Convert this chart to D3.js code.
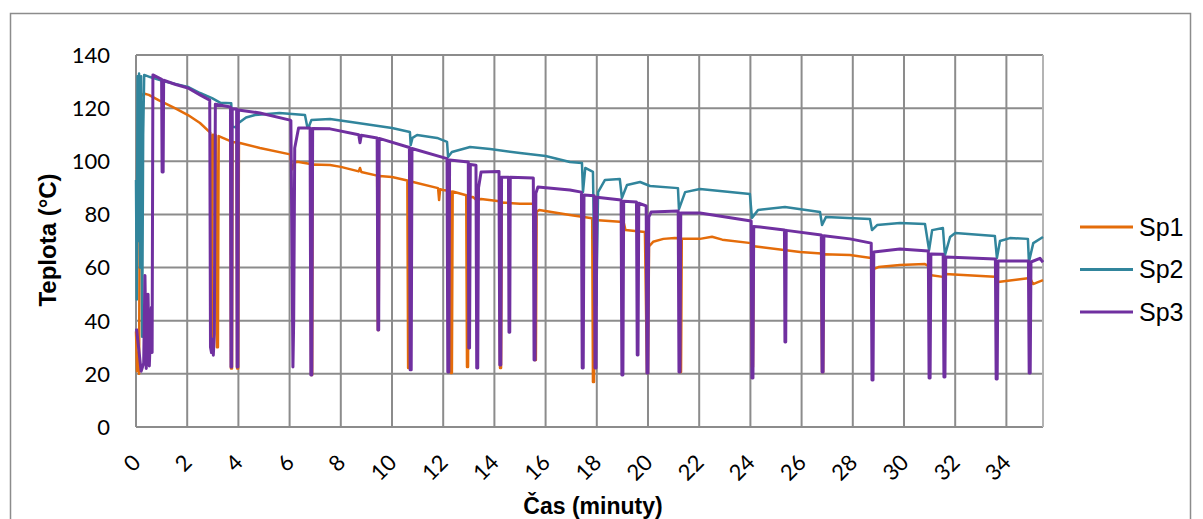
<!DOCTYPE html>
<html>
<head>
<meta charset="utf-8">
<script src="https://cdn.jsdelivr.net/npm/d3@7"></script>
<style>
    body { margin: 0; background: #fff; }
    .tick-label { font-family: Lato, 'Open Sans', sans-serif; font-size: 22px; fill: #000; }
    .axisLabel { font-family: 'Liberation Sans', Arial, sans-serif; font-size: 23px; font-weight: bold; fill: #000; }
    .legendText { font-family: 'Liberation Sans', Arial, sans-serif; font-size: 25px; fill: #000; }
    .grid line { stroke: #8c8c8c; stroke-width: 2; }
    .linePath { fill: none; stroke-linejoin: round; stroke-linecap: butt; }
</style>
</head>
<body>
<div id="chart"></div>
<script>
// Series values: [time in minutes, temperature in °C]
const sp1 = [
    [0, 36], [0.04, 21], [0.08, 28], [0.12, 20], [0.16, 124], [0.3, 125.5], [0.5, 125],
    [0.88, 123], [1.52, 120], [2.03, 117.4], [2.5, 114.4], [2.9, 110.8],
    [2.93, 31.6], [2.97, 31.6], [3.0, 110], [3.12, 109.8], [3.16, 30], [3.2, 30], [3.23, 109.5],
    [3.69, 107.6], [3.71, 22], [3.75, 22], [3.77, 107.3], [3.93, 107.1], [3.95, 22], [3.99, 22],
    [4.02, 107], [4.84, 105], [6.02, 102.6], [6.1, 97], [6.2, 99.5], [6.3, 99.8],
    [6.82, 99], [6.84, 19.6], [6.88, 19.6], [6.9, 98.8], [7.58, 98.6], [8.0, 97.9],
    [8.7, 96.2], [8.75, 97.5], [8.8, 96], [9.42, 94.6], [9.45, 36.5], [9.48, 36.5], [9.5, 94.5],
    [10.0, 94.1], [10.6, 92.8], [10.63, 22.2], [10.67, 22.2], [10.7, 92.5],
    [11.8, 89.9], [11.84, 85.4], [11.88, 89.5], [11.99, 89.2],
    [12.28, 88.8], [12.3, 20.3], [12.34, 20.3], [12.37, 88.6], [12.9, 87.2], [12.93, 22.6],
    [12.97, 22.6], [13.0, 86.5], [13.16, 86.6], [13.3, 85.4], [13.48, 85.8],
    [14.2, 85], [14.22, 22.2], [14.26, 22.2], [14.29, 84.5], [15.0, 84], [15.55, 84],
    [15.58, 25.2], [15.62, 25.2], [15.65, 81], [15.75, 81.7], [16.95, 79.8], [17.82, 78.6],
    [17.85, 16.9], [17.89, 16.9], [17.92, 77.9], [18.9, 77.2], [19.05, 77], [19.12, 74.1],
    [19.88, 73.4], [19.96, 20.3], [20.0, 20.3], [20.04, 68], [20.2, 69.7], [20.6, 70.8],
    [21.05, 71.1], [21.2, 71], [21.25, 20.7], [21.29, 20.7], [21.32, 70.8], [22.03, 70.8],
    [22.5, 71.6], [22.9, 70.5], [24.03, 69.2], [24.06, 22.6], [24.1, 22.6], [24.13, 68],
    [24.38, 67.7], [25.94, 65.9], [26.77, 65.3], [26.8, 20.7], [26.84, 20.7], [26.87, 65],
    [27.89, 64.7], [28.72, 63.6], [28.83, 59.5], [29.0, 60.2], [29.84, 61], [30.82, 61.3],
    [30.95, 60.6], [31.0, 57.2], [31.52, 56.5], [31.6, 57.6], [33.55, 56.5], [33.67, 54.6],
    [34.92, 56.1], [35.04, 53.8], [35.43, 55.3]
];

const sp2 = [
    [0, 93], [0.03, 48], [0.06, 132], [0.09, 70], [0.12, 133], [0.16, 60], [0.2, 132],
    [0.24, 34], [0.28, 110], [0.32, 132.5], [0.55, 131.7], [1.13, 130], [2.03, 128],
    [2.5, 125.7], [2.97, 123.8], [3.3, 122], [3.72, 121.8], [3.76, 113], [3.9, 112.8],
    [4.02, 114.5], [4.3, 116.5], [4.65, 117.4], [5.6, 118.2], [6.6, 117.4], [6.7, 112.5],
    [6.75, 113], [6.85, 115.5], [7.58, 115.9], [8.4, 114.8], [10.0, 112.5], [10.7, 111],
    [10.73, 106.1], [10.8, 108.8], [10.98, 109.9], [11.76, 108.8], [12.15, 107.3],
    [12.19, 101.6], [12.34, 103.5], [13.05, 105.4], [13.83, 104.6], [15.0, 103.1],
    [16.0, 102], [16.95, 99.7], [17.42, 99.4], [17.46, 88.4], [17.55, 97.5], [17.85, 96],
    [17.93, 45.9], [17.98, 45.9], [18.05, 88.4], [18.32, 93], [18.9, 93.3], [18.98, 86.2],
    [19.18, 91.1], [19.69, 92.2], [20.08, 90.7], [21.17, 89.9], [21.21, 82], [21.45, 88.4],
    [22.03, 89.6], [23.98, 87.7], [24.06, 78.7], [24.3, 81.7], [25.35, 82.8], [26.72, 80.9],
    [26.8, 76], [26.95, 79], [28.67, 78.3], [28.75, 74.1], [28.95, 76], [29.84, 76.8],
    [30.82, 76.4], [30.98, 66.6], [31.1, 74.1], [31.52, 74.9], [31.6, 64.7], [31.8, 71.5],
    [32.0, 73], [33.55, 71.9], [33.63, 63.6], [33.75, 70], [34.14, 71.1], [34.84, 70.8],
    [34.88, 62.1], [35.05, 69.2], [35.43, 71.5]
];

const sp3 = [
    [0.02, 37], [0.1, 30], [0.2, 21], [0.3, 24], [0.35, 57], [0.4, 22], [0.47, 50], [0.52, 23],
    [0.6, 45], [0.63, 28], [0.66, 132.5], [1.0, 130.8], [1.02, 96], [1.06, 96], [1.08, 130.5],
    [1.52, 129], [2.03, 127.6], [2.5, 125], [2.88, 123], [2.91, 30], [2.95, 28], [2.99, 33],
    [3.02, 27], [3.06, 35], [3.1, 121.5], [3.69, 120.4], [3.71, 22.6], [3.74, 22.6],
    [3.76, 119.8], [3.93, 119.7], [3.95, 22.6], [3.98, 22.6], [4.0, 119.3], [4.84, 118.2],
    [6.02, 115.5], [6.05, 115.3], [6.1, 60], [6.13, 22.6], [6.16, 40], [6.2, 105], [6.35, 112.5],
    [6.8, 112.5], [6.83, 19.6], [6.87, 19.6], [6.9, 112.3], [7.58, 112.2], [8.7, 110],
    [8.75, 107], [8.8, 109.8], [9.42, 108.8], [9.45, 36.5], [9.48, 36.5], [9.5, 108.6],
    [10.68, 105.2], [10.71, 21.5], [10.75, 21.5], [10.78, 104.8], [12.15, 101], [12.18, 20.7],
    [12.22, 20.7], [12.25, 100.5], [12.98, 99.7], [13.0, 29.7], [13.03, 29.7], [13.06, 98.8],
    [13.28, 98.5], [13.31, 22.2], [13.35, 22.2], [13.38, 90], [13.48, 96], [14.18, 96.2],
    [14.21, 23.3], [14.25, 23.3], [14.28, 94], [14.55, 94], [14.57, 35.7], [14.6, 35.7],
    [14.62, 94], [15.52, 93.7], [15.55, 25.2], [15.59, 25.2], [15.62, 88], [15.7, 90.3],
    [16.95, 89.2], [17.4, 88.4], [17.43, 22.2], [17.47, 22.2], [17.5, 87.3], [17.9, 87],
    [17.93, 22.2], [17.97, 22.2], [18.0, 86.5], [18.95, 85.4], [18.98, 19.6], [19.02, 19.6],
    [19.05, 85], [19.55, 84.7], [19.58, 27.1], [19.61, 27.1], [19.64, 84.2], [19.93, 83.2],
    [19.96, 20.3], [20.0, 20.3], [20.03, 79], [20.12, 80.9], [21.18, 81.3], [21.21, 20.7],
    [21.25, 20.7], [21.28, 80.5], [22.03, 80.5], [24.03, 77.5], [24.06, 18.4], [24.1, 18.4],
    [24.13, 75.5], [24.38, 75.3], [25.33, 74.1], [25.35, 32], [25.38, 32], [25.4, 74],
    [26.77, 72.3], [26.8, 20.7], [26.84, 20.7], [26.87, 72], [27.89, 70.8], [28.72, 69.2],
    [28.75, 17.7], [28.79, 17.7], [28.82, 65.9], [29.84, 67], [30.95, 66.2], [30.98, 18.4],
    [31.02, 18.4], [31.05, 65.1], [31.53, 65], [31.56, 18.8], [31.6, 18.8], [31.63, 64],
    [33.57, 63.2], [33.6, 18.1], [33.64, 18.1], [33.67, 62.5], [34.86, 62.5], [34.89, 20.3],
    [34.93, 20.3], [34.96, 62.1], [35.31, 63.5], [35.43, 62]
];

const seriesNames = ['Sp1', 'Sp2', 'Sp3'];
const seriesColors = ['#e46c0a', '#31859c', '#7030a0'];
const yTicks = [0, 20, 40, 60, 80, 100, 120, 140];
const xTicks = [0, 2, 4, 6, 8, 10, 12, 14, 16, 18, 20, 22, 24, 26, 28, 30, 32, 34];
const xMax = 35.43;

function linechart() {
    let margin = { top: 55, left: 136, right: 160, bottom: 92 },
        width = 1203 - margin.left - margin.right,
        height = 519 - margin.top - margin.bottom,
        xScale = d3.scaleLinear(),
        yScale = d3.scaleLinear();

    function chart(selector, series) {
        let svg = d3.select(selector)
            .append('svg')
            .attr('width', 1203)
            .attr('height', 519);

        // outer chart border
        svg.append('rect')
            .attr('x', 10.5).attr('y', 13.5)
            .attr('width', 1180).attr('height', 530)
            .attr('fill', 'none')
            .attr('stroke', '#8c8c8c')
            .attr('stroke-width', 1.5);

        let g = svg.append('g')
            .attr('transform', 'translate(' + margin.left + ',' + margin.top + ')');

        xScale.domain([0, xMax]).range([0, width]);
        yScale.domain([0, 140]).range([height, 0]);

        // gridlines
        let grid = g.append('g').attr('class', 'grid');
        grid.selectAll('.hline')
            .data(yTicks)
            .join('line')
            .attr('x1', 0).attr('x2', width)
            .attr('y1', d => yScale(d)).attr('y2', d => yScale(d));
        grid.selectAll('.vline')
            .data(xTicks)
            .join('line')
            .attr('x1', d => xScale(d)).attr('x2', d => xScale(d))
            .attr('y1', 0).attr('y2', height);

        // right edge of the plot area
        g.append('line')
            .attr('x1', width).attr('x2', width)
            .attr('y1', 0).attr('y2', height)
            .attr('stroke', '#b4b4b4')
            .attr('stroke-width', 2);

        // Y tick labels
        g.selectAll('.ylab')
            .data(yTicks)
            .join('text')
            .attr('class', 'tick-label')
            .attr('x', -26)
            .attr('y', d => yScale(d))
            .attr('dy', '0.36em')
            .attr('text-anchor', 'end')
            .text(d => d);

        // X tick labels, put at an angle
        g.selectAll('.xlab')
            .data(xTicks)
            .join('text')
            .attr('class', 'tick-label')
            .attr('text-anchor', 'end')
            .attr('transform', d => 'translate(' + (xScale(d) + 6) + ',' + (height + 37) + ') rotate(-45)')
            .text(d => d);

        // axis titles
        svg.append('text')
            .attr('class', 'axisLabel')
            .attr('x', 593).attr('y', 514)
            .attr('text-anchor', 'middle')
            .text('Čas (minuty)');

        svg.append('text')
            .attr('class', 'axisLabel')
            .attr('transform', 'translate(56,240) rotate(-90)')
            .attr('text-anchor', 'middle')
            .style('font-size', '24px')
            .text('Teplota (°C)');

        // the lines
        const line = d3.line()
            .x(d => xScale(d[0]))
            .y(d => yScale(d[1]));

        g.selectAll('.linePath')
            .data(series)
            .join('path')
            .attr('class', 'linePath')
            .attr('stroke', (d, i) => seriesColors[i])
            .attr('stroke-width', (d, i) => i === 2 ? 3 : 2.5)
            .attr('d', line);

        // legend
        let legend = svg.append('g')
            .selectAll('g')
            .data(seriesNames)
            .join('g')
            .attr('transform', (d, i) => 'translate(1080,' + (227 + i * 42.5) + ')');

        legend.append('line')
            .attr('x1', 0).attr('x2', 53)
            .attr('stroke', (d, i) => seriesColors[i])
            .attr('stroke-width', 3);

        legend.append('text')
            .attr('class', 'legendText')
            .attr('x', 59)
            .attr('dy', '0.35em')
            .text(d => d);

        return chart;
    }

    return chart;
}

linechart()('#chart', [sp1, sp2, sp3]);
</script>
</body>
</html>
